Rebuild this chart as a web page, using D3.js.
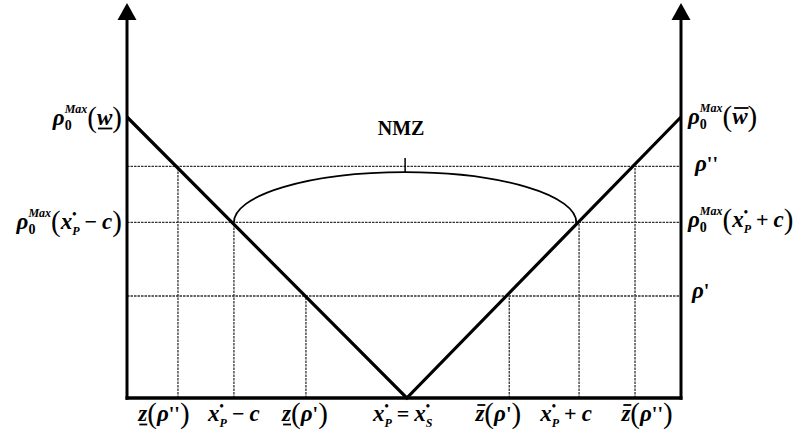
<!DOCTYPE html>
<html>
<head>
<meta charset="utf-8">
<script src="https://cdn.jsdelivr.net/npm/d3@7"></script>
<style>
  body { margin: 0; background: #fff; }
</style>
</head>
<body>
<svg id="chart" width="805" height="442"></svg>
<script>
// Horizontal positions run from the left axis (0) to the right axis (100);
// vertical values run from the baseline (0) to rho0Max at the axes (100).
const vShapeX = [0, 50.5, 100];
const vShapeY = [100, 0, 100];

// Dotted horizontal levels: rho'', rho0Max(x*P - c), rho'
const levelValues = [82.4, 62.5, 36.3];

// Dotted vertical guides and the level each one reaches
const guideX = [9.2, 19.3, 32.3, 69.0, 81.6, 91.7];
const guideTop = [82.4, 62.5, 36.3, 36.3, 62.5, 82.4];

// Non-manipulable zone arc: ends on the V, peak height
const nmzX = [19.3, 81.1];
const nmzLevel = [62.5, 80.4];
const nmzName = "NMZ";

// Text building blocks
const xP = [{t: "x", k: "it"}, {t: "\u2022", k: "dot"}, {t: "P", k: "subit", back: true}];
const xS = [{t: "x", k: "it"}, {t: "\u2022", k: "dot"}, {t: "S", k: "subit", back: true}];
const rho0Max = [{t: "\u03C1", k: "it"}, {t: "0", k: "sub"}, {t: "Max", k: "sup", back: true}];
const paren = inner => [{t: "(", k: "paren"}].concat(inner, [{t: ")", k: "paren"}]);
const op = s => ({t: s, k: "rm", padL: 5, padR: 5});

const leftLabels = [
  rho0Max.concat(paren([{t: "w", k: "it", deco: "under"}])),
  rho0Max.concat(paren(xP.concat([op("\u2212"), {t: "c", k: "it"}])))
];
const leftLabelLevels = [100, 62.5];

const rightLabels = [
  rho0Max.concat(paren([{t: "w", k: "it", deco: "over"}])),
  [{t: "\u03C1", k: "it"}, {t: "''", k: "prime"}],
  rho0Max.concat(paren(xP.concat([op("+"), {t: "c", k: "it"}]))),
  [{t: "\u03C1", k: "it"}, {t: "'", k: "prime"}]
];
const rightLabelLevels = [100, 82.4, 62.5, 36.3];

const bottomLabels = [
  [{t: "z", k: "it", deco: "under"}].concat(paren([{t: "\u03C1", k: "it"}, {t: "''", k: "prime"}])),
  xP.concat([op("\u2212"), {t: "c", k: "it"}]),
  [{t: "z", k: "it", deco: "under"}].concat(paren([{t: "\u03C1", k: "it"}, {t: "'", k: "prime"}])),
  xP.concat([op("="), ...xS]),
  [{t: "z", k: "it", deco: "over"}].concat(paren([{t: "\u03C1", k: "it"}, {t: "'", k: "prime"}])),
  xP.concat([op("+"), {t: "c", k: "it"}]),
  [{t: "z", k: "it", deco: "over"}].concat(paren([{t: "\u03C1", k: "it"}, {t: "''", k: "prime"}]))
];
const bottomLabelX = [9.2, 19.3, 32.3, 50.5, 69.0, 81.6, 91.7];

// ---------------------------------------------------------------
const FONT = "'Liberation Serif', 'Times New Roman', Times, serif";
const svg = d3.select("#chart");
const x = d3.scaleLinear().domain([0, 100]).range([127, 681]);
const y = d3.scaleLinear().domain([0, 100]).range([398, 117]);

const styles = {
  it:    {size: 23, style: "italic", weight: "bold", dy: 0},
  rm:    {size: 22, style: "normal", weight: "bold", dy: 0},
  paren: {size: 29, style: "normal", weight: "normal", dy: 2},
  sub:   {size: 14, style: "normal", weight: "bold", dy: 5},
  subit: {size: 12, style: "italic", weight: "bold", dy: 6},
  sup:   {size: 12, style: "italic", weight: "bold", dy: -12},
  dot:   {size: 12, style: "normal", weight: "bold", dy: -11},
  prime: {size: 20, style: "normal", weight: "bold", dy: 0}
};

function mathLabel(pieces, px, py, anchor) {
  const g = svg.append("g");
  let cursor = 0, prevStart = 0;
  pieces.forEach(p => {
    const s = styles[p.k];
    const start = p.back ? prevStart : cursor + (p.padL || 0);
    const t = g.append("text")
      .attr("x", start).attr("y", s.dy)
      .attr("font-family", FONT)
      .attr("font-size", s.size)
      .attr("font-style", s.style)
      .attr("font-weight", s.weight)
      .attr("fill", "#000")
      .text(p.t);
    const w = t.node().getComputedTextLength();
    if (p.deco === "under") {
      g.append("line").attr("x1", start + 1).attr("x2", start + w)
        .attr("y1", 3.5).attr("y2", 3.5).attr("stroke", "#000").attr("stroke-width", 1.8);
    } else if (p.deco === "over") {
      g.append("line").attr("x1", start + 2).attr("x2", start + w + 1)
        .attr("y1", -16).attr("y2", -16).attr("stroke", "#000").attr("stroke-width", 1.8);
    }
    const end = start + w + (p.padR || 0);
    cursor = p.back ? Math.max(cursor, end) : end;
    prevStart = start;
  });
  const width = cursor;
  const shift = anchor === "end" ? px - width : anchor === "middle" ? px - width / 2 : px;
  g.attr("transform", `translate(${shift},${py})`);
  return g;
}

const dotted = {stroke: "#333", width: 1.3, dash: "2.5 1"};

// Horizontal dotted levels across the full width
svg.append("g").selectAll("line").data(levelValues).join("line")
  .attr("x1", x(0)).attr("x2", x(100))
  .attr("y1", d => y(d)).attr("y2", d => y(d))
  .attr("stroke", dotted.stroke).attr("stroke-width", dotted.width)
  .attr("stroke-dasharray", dotted.dash);

// Vertical dotted guides from the baseline up to their level
svg.append("g").selectAll("line").data(guideX).join("line")
  .attr("x1", d => x(d)).attr("x2", d => x(d))
  .attr("y1", y(0)).attr("y2", (d, i) => y(guideTop[i]))
  .attr("stroke", dotted.stroke).attr("stroke-width", dotted.width)
  .attr("stroke-dasharray", dotted.dash);

// NMZ arc (half ellipse) between the two V intersections
const ax0 = x(nmzX[0]), ax1 = x(nmzX[1]), ab = y(nmzLevel[0]), ap = y(nmzLevel[1]);
const rx = (ax1 - ax0) / 2, ry = ab - ap;
svg.append("path")
  .attr("d", `M${ax0},${ab} A${rx},${ry} 0 0 1 ${ax1},${ab}`)
  .attr("fill", "none").attr("stroke", "#000").attr("stroke-width", 1.8);
const midX = (ax0 + ax1) / 2;
svg.append("line").attr("x1", midX).attr("x2", midX)
  .attr("y1", ap).attr("y2", ap - 14)
  .attr("stroke", "#000").attr("stroke-width", 1.5);
svg.append("text").attr("x", midX - 4).attr("y", 135)
  .attr("text-anchor", "middle")
  .attr("font-family", FONT)
  .attr("font-size", 20).attr("font-weight", "bold")
  .attr("fill", "#000")
  .text(nmzName);

// V-shaped rho0Max line
const vLine = d3.line().x(d => x(d[0])).y(d => y(d[1]));
svg.append("path")
  .attr("d", vLine(d3.zip(vShapeX, vShapeY)))
  .attr("fill", "none").attr("stroke", "#000").attr("stroke-width", 3.2)
  .attr("stroke-linejoin", "miter");

// Axes: baseline and two vertical axes with arrowheads
svg.append("line").attr("x1", x(0) - 1.5).attr("x2", x(100) + 1.5)
  .attr("y1", y(0)).attr("y2", y(0))
  .attr("stroke", "#000").attr("stroke-width", 3.5);
[0, 100].forEach(v => {
  const ax = x(v);
  svg.append("line").attr("x1", ax).attr("x2", ax)
    .attr("y1", y(0) + 1.7).attr("y2", 18)
    .attr("stroke", "#000").attr("stroke-width", 3);
  svg.append("path")
    .attr("d", `M${ax},3 L${ax - 9.5},20 L${ax + 9.5},20 Z`)
    .attr("fill", "#000");
});

// Left axis labels
const leftDy = [8, 6.5];
leftLabels.forEach((lab, i) => mathLabel(lab, 122, y(leftLabelLevels[i]) + leftDy[i], "end"));

// Right axis labels
const rightDx = [688, 695, 688, 692];
const rightDy = [7, 5, 5, 2.5];
rightLabels.forEach((lab, i) => mathLabel(lab, rightDx[i], y(rightLabelLevels[i]) + rightDy[i], "start"));

// Bottom labels
const bottomNudge = [-14, 0, -1, -4, -11, -13, 12];
bottomLabels.forEach((lab, i) => mathLabel(lab, x(bottomLabelX[i]) + bottomNudge[i], 421, "middle"));
</script>
</body>
</html>
